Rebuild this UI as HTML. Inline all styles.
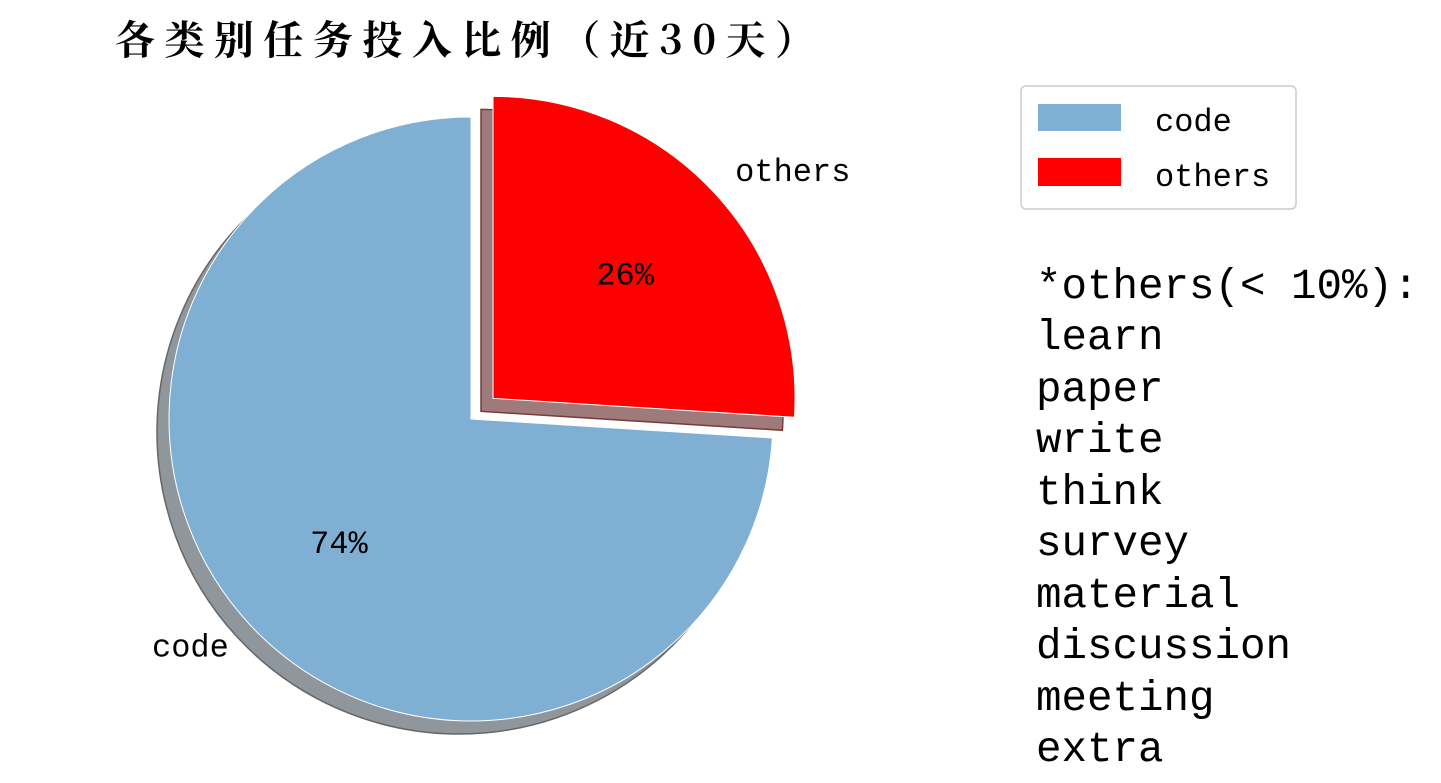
<!DOCTYPE html>
<html><head><meta charset="utf-8"><style>
body{margin:0;background:#fff;width:1441px;height:783px;overflow:hidden;position:relative}
svg{position:absolute;left:0;top:0}
.t{font-family:"Liberation Mono","Noto Serif CJK SC",monospace}
</style></head><body>
<svg width="1441" height="783">
<text x="115" y="54" font-size="40" font-weight="bold" textLength="700" lengthAdjust="spacing" font-family="'Noto Serif CJK SC','Noto Sans CJK SC',serif">各类别任务投入比例（近30天）</text>
<g id="shadows"></g><g id="slices"></g><g id="labels"></g>
<g>
<rect x="1021" y="86" width="275" height="123" rx="5" fill="#fff" stroke="#ccc" stroke-width="1.5"/>
<rect x="1038" y="104" width="83" height="27" fill="#7fb0d3"/>
<text x="1155" y="131" font-size="32" class="t">code</text>
<rect x="1038" y="158" width="83" height="28" fill="#ff0000"/>
<text x="1155" y="186" font-size="32" class="t">others</text>
</g>
<g class="t" font-size="42.5">
<text x="1036" y="298">*others(&lt; 10%):</text>
<text x="1036" y="349">learn</text>
<text x="1036" y="401">paper</text>
<text x="1036" y="452">write</text>
<text x="1036" y="504">think</text>
<text x="1036" y="555">survey</text>
<text x="1036" y="607">material</text>
<text x="1036" y="658">discussion</text>
<text x="1036" y="710">meeting</text>
<text x="1036" y="761">extra</text>
</g>
</svg>
<script>
const categories=["code","others"];
const values=[74,26];
const explode=[0,0.1];
const colors=["#7fb0d3","#ff0000"];
const shadowColors=["#8f979d","#9e7a7a"];
const cx=471,cy=419,R=302,sdx=-12,sdy=13;
const ns="http://www.w3.org/2000/svg";
const total=values.reduce((a,b)=>a+b,0);
function pt(a,r,ox,oy){return [ox+r*Math.cos(a),oy-r*Math.sin(a)];}
function arc(ox,oy,a0,a1){const p0=pt(a0,R,ox,oy),p1=pt(a1,R,ox,oy);const large=Math.abs(a1-a0)>Math.PI?1:0;const sweep=a1>a0?0:1;
return `M${ox},${oy}L${p0[0]},${p0[1]}A${R},${R} 0 ${large} ${sweep} ${p1[0]},${p1[1]}Z`;}
let start=Math.PI/2;
const order=[1,0];
const sh=document.getElementById('shadows'),sl=document.getElementById('slices'),lb=document.getElementById('labels');
order.forEach(i=>{
 const sweep=values[i]/total*2*Math.PI;
 const a0=start,a1=start-sweep;start=a1;
 const mid=(a0+a1)/2;
 const ox=cx+explode[i]*R*Math.cos(mid),oy=cy-explode[i]*R*Math.sin(mid);
 const s=document.createElementNS(ns,'path');
 s.setAttribute('d',arc(ox+sdx,oy+sdy,a0,a1));s.setAttribute('fill',shadowColors[i]);
 s.setAttribute('stroke',i==1?'#7a3a3a':'#666');s.setAttribute('stroke-width','1.5');
 
 
 sh.appendChild(s);
 const p=document.createElementNS(ns,'path');
 p.setAttribute('d',arc(ox,oy,a0,a1));p.setAttribute('fill',colors[i]);
 p.setAttribute('stroke','#fff');p.setAttribute('stroke-width','1');
 
 
 sl.appendChild(p);
 const lp=pt(mid,R*0.6,ox,oy);
 const t=document.createElementNS(ns,'text');
 t.setAttribute('x',lp[0]);t.setAttribute('y',lp[1]+10);t.setAttribute('text-anchor','middle');
 t.setAttribute('font-size','32');t.setAttribute('class','t');t.textContent=values[i]+'%';
 
 
 lb.appendChild(t);
 const op=pt(mid,R*1.1,ox,oy);
 const c=document.createElementNS(ns,'text');
 c.setAttribute('x',op[0]);c.setAttribute('y',op[1]+10);
 c.setAttribute('text-anchor',Math.cos(mid)>=0?'start':'end');
 c.setAttribute('font-size','32');c.setAttribute('class','t');c.textContent=categories[i];
 
 
 lb.appendChild(c);
});
</script>
</body></html>
